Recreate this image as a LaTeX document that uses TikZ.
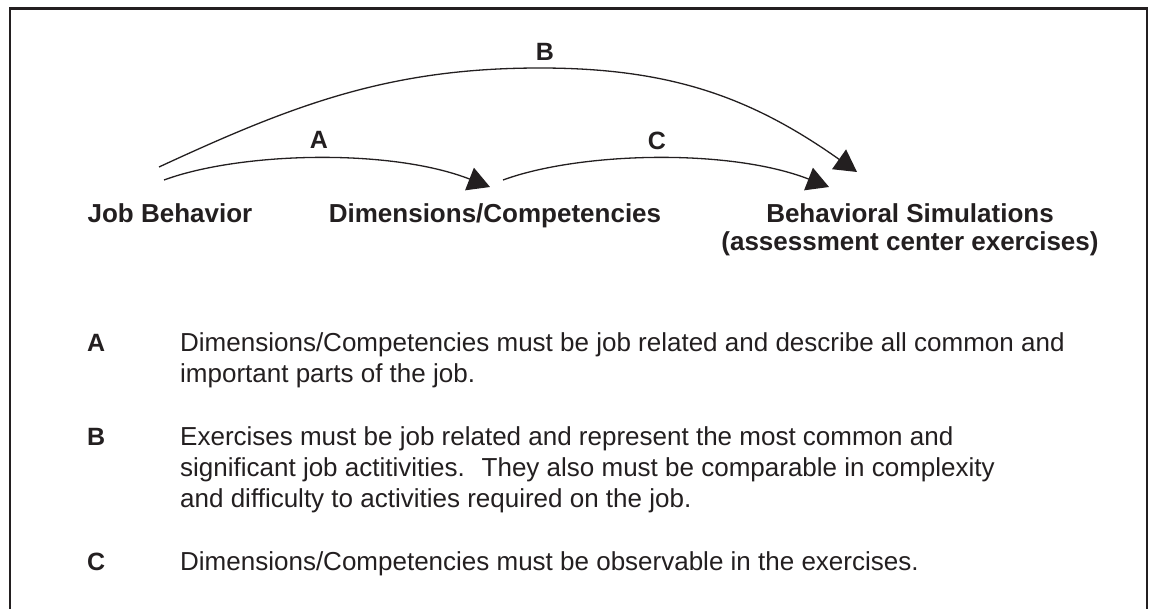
\documentclass[tikz,border=0pt]{standalone}
\usepackage{fontspec}
\setmainfont{Liberation Sans}
\usetikzlibrary{arrows.meta}
\definecolor{ink}{HTML}{231F20}
\begin{document}
\begin{tikzpicture}[x=1pt,y=-1pt,
  title/.style={font=\fontsize{26}{28}\selectfont\bfseries, text=ink, inner sep=0pt, anchor=base},
  lbl/.style={font=\fontsize{25}{28}\selectfont\bfseries, text=ink, inner sep=0pt, anchor=base},
  key/.style={font=\fontsize{25}{28}\selectfont\bfseries, text=ink, inner sep=0pt, anchor=base west},
  body/.style={font=\fontsize{26}{31}\selectfont, text=ink, inner sep=0pt, anchor=base west},
  conn/.style={draw=ink, line width=1.3pt, -{Triangle[length=22pt,width=24pt]}},
]
\useasboundingbox (0,0) rectangle (1150,608);
\clip (0,0) rectangle (1150,608);
\fill[white] (0,0) rectangle (1150,608);
\draw[ink, line width=2.5pt] (10,640) -- (10,8.5) -- (1147,8.5) -- (1147,640);

% main nodes
\node[title] (jb)  at (170,222) {Job Behavior};
\node[title] (dc)  at (495,222) {Dimensions/Competencies};
\node[title] (bs)  at (910,222) {Behavioral Simulations};
\node[title] (bs2) at (910,250) {(assessment center exercises)};

% connector end points
\coordinate (a0) at (164,180);
\coordinate (a1) at (490,187);
\coordinate (b0) at (159,167);
\coordinate (bm) at (540,68);
\coordinate (b1) at (857,172);
\coordinate (c0) at (503,180);
\coordinate (c1) at (829,187);

\draw[conn] (a0) .. controls (240,152) and (390,148) .. (a1);
\draw[conn] (b0) .. controls (295,104) and (390,68) .. (bm)
                 .. controls (670,68) and (751,97) .. (b1);
\draw[conn] (c0) .. controls (579,152) and (729,148) .. (c1);

\node[lbl] (la) at (319,148) {A};
\node[lbl] (lb) at (545,60) {B};
\node[lbl] (lc) at (657,149) {C};

% legend
\node[key] (ka) at (87,351) {A};
\node[body] (ta1) at (180,351) {Dimensions/Competencies must be job related and describe all common and};
\node[body] (ta2) at (180,382.3) {important parts of the job.};
\node[key] (kb) at (87,445) {B};
\node[body] (tb1) at (180,445) {Exercises must be job related and represent the most common and};
\node[body] (tb2) at (180,476.3) {significant job actitivities.~ They also must be comparable in complexity};
\node[body] (tb3) at (180,507.6) {and difficulty to activities required on the job.};
\node[key] (kc) at (87,570) {C};
\node[body] (tc1) at (180,570) {Dimensions/Competencies must be observable in the exercises.};
\end{tikzpicture}
\end{document}
